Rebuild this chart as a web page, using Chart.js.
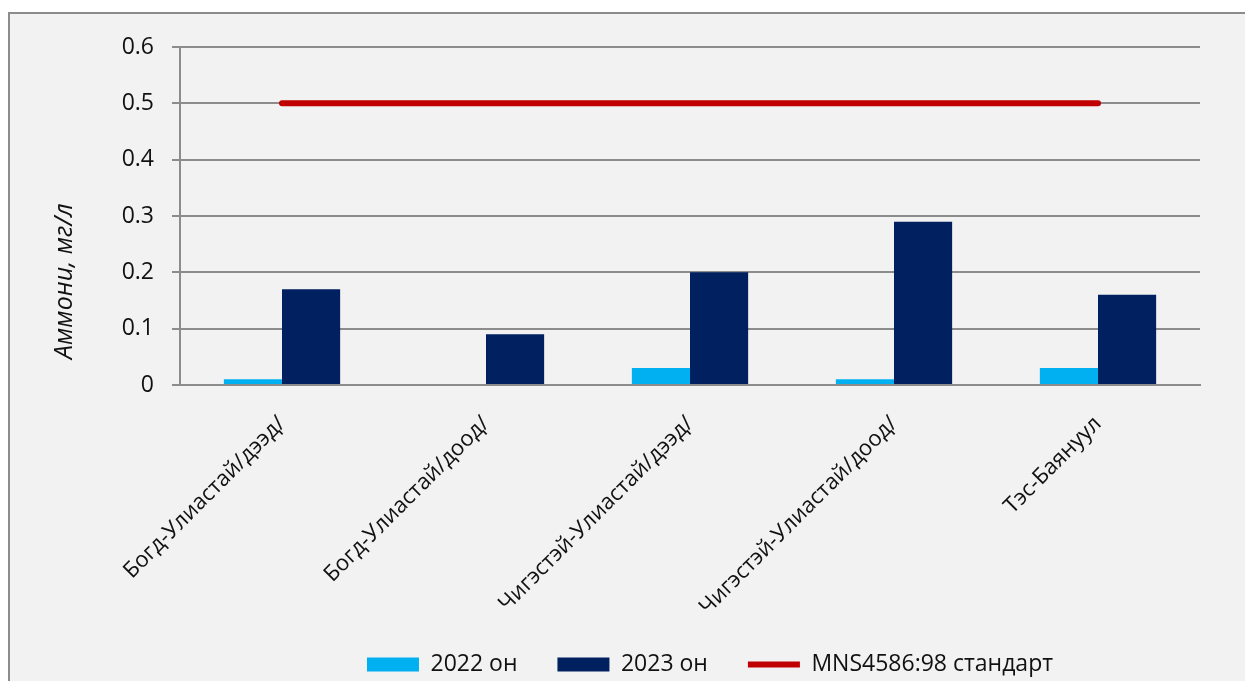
<!DOCTYPE html>
<html>
<head>
<meta charset="utf-8">
<script src="https://cdn.jsdelivr.net/npm/chart.js@4"></script>
<style>
    body { margin: 0; background: #fff; }
    #frame {
        position: absolute; left: 8px; top: 12px; width: 1245px; height: 681px;
        background: #f2f2f2; border: 2px solid #8c8c8c;
    }
    #grafAm { position: absolute; left: 0; top: 0; }
</style>
</head>
<body>
<div id="frame"></div>
<canvas id="grafAm" width="1245" height="681"></canvas>
<script>
const cats = ['Богд-Улиастай/дээд/', 'Богд-Улиастай/доод/', 'Чигэстэй-Улиастай/дээд/', 'Чигэстэй-Улиастай/доод/', 'Тэс-Баянуул'];
const v2022 = [0.01, 0, 0.03, 0.01, 0.03];
const v2023 = [0.17, 0.09, 0.2, 0.29, 0.16];
const stdMns = [0.5, 0.5, 0.5, 0.5, 0.5];
const serNames = ['2022 он', '2023 он', 'MNS4586:98 стандарт'];

const fnt = "'Open Sans', 'Noto Sans', sans-serif";

// move the legend row to the right like in the original
const legShift = {
    id: 'legShift',
    afterLayout(chart) { chart.legend.left = 220; }
};

function iniGraf() {
    const ctx = document.getElementById('grafAm').getContext('2d');
    window.mGraf = new Chart(ctx, {
        type: 'bar',
        data: {
            labels: cats,
            datasets: [{
                label: serNames[0],
                data: v2022,
                backgroundColor: '#00b0f0',
                borderWidth: 0,
                pointStyle: 'rect'
            }, {
                label: serNames[1],
                data: v2023,
                backgroundColor: '#002060',
                borderWidth: 0,
                pointStyle: 'rect'
            }, {
                type: 'line',
                label: serNames[2],
                data: stdMns,
                borderColor: '#c00000',
                backgroundColor: '#c00000',
                borderWidth: 6,
                borderCapStyle: 'round',
                pointRadius: 0,
                pointStyle: 'line'
            }]
        },
        options: {
            responsive: false,
            animation: false,
            layout: { padding: { left: 0, top: 47, right: 45, bottom: -5 } },
            datasets: { bar: { categoryPercentage: 0.57, barPercentage: 1 } },
            scales: {
                x: {
                    grid: { display: false, drawTicks: false },
                    border: { display: true, color: '#8c8c8c', width: 2 },
                    ticks: {
                        minRotation: 45, maxRotation: 45, autoSkip: false, padding: 26,
                        color: '#111', font: { family: fnt, size: 22 }
                    },
                    afterFit(s) { s.height = 228; }
                },
                y: {
                    min: 0, max: 0.6,
                    grid: { color: '#8c8c8c', lineWidth: 2, tickLength: 8 },
                    border: { display: true, color: '#8c8c8c', width: 2 },
                    ticks: {
                        stepSize: 0.1, padding: 18, color: '#111',
                        font: { family: fnt, size: 23 },
                        callback: function(v) { return v === 0 ? '0' : v.toFixed(1); }
                    },
                    title: {
                        display: true, align: 'start',
                        text: '    Аммони, мг/л',
                        color: '#111',
                        font: { family: fnt, size: 25, style: 'italic' },
                        padding: { top: 50, bottom: 0 }
                    },
                    afterFit(s) { s.width = 180; }
                }
            },
            plugins: {
                tooltip: { enabled: false },
                legend: {
                    position: 'bottom',
                    labels: {
                        usePointStyle: true,
                        pointStyleWidth: 52,
                        boxHeight: 14,
                        padding: 40,
                        color: '#111',
                        font: { family: fnt, size: 23 }
                    }
                }
            }
        },
        plugins: [legShift]
    });
}

document.addEventListener('DOMContentLoaded', iniGraf);
</script>
</body>
</html>
